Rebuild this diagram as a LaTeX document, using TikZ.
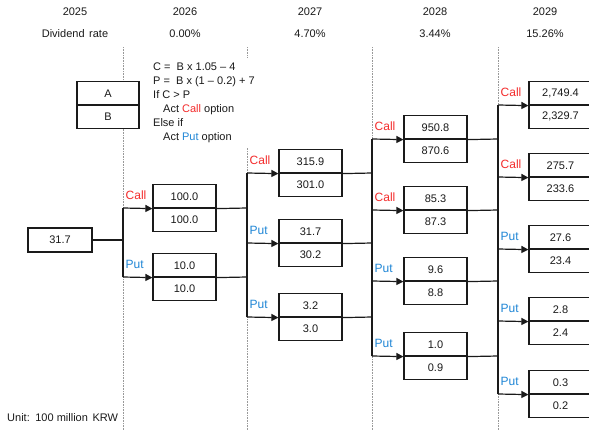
\documentclass[tikz,border=0pt]{standalone}
\usepackage{fontspec}
\setmainfont{Liberation Sans}
\usetikzlibrary{arrows.meta}
\definecolor{callred}{HTML}{F42C2C}
\definecolor{putblue}{HTML}{1F86D6}
\definecolor{ink}{HTML}{1A1A1A}
\tikzset{
  every node/.style={font=\fontsize{11}{13}\selectfont, text=ink},
  cell/.style={draw=ink, line width=1.2pt, fill=white, minimum width=63pt, minimum height=23.5pt, inner sep=0pt, anchor=center},
  guide/.style={gray!80, densely dotted, line width=0.6pt},
  wire/.style={draw=ink, line width=1.2pt},
  arr/.style={wire, -{Triangle[length=7pt,width=7pt]}},
  calllbl/.style={text=callred, font=\fontsize{12}{14}\selectfont, anchor=base west, inner sep=0pt, xshift=2.5pt, yshift=8.5pt},
  putlbl/.style={text=putblue, font=\fontsize{12}{14}\selectfont, anchor=base west, inner sep=0pt, xshift=2.5pt, yshift=8.5pt},
}
\newcommand\vpair[5]{%
  \node[cell] (#1t) at ({#2+31.5},{#3-11.75}) {#4};
  \node[cell] (#1b) at ({#2+31.5},{#3+11.75}) {#5};}
\begin{document}
\begin{tikzpicture}[x=1pt,y=-1pt]
\useasboundingbox (0,0) rectangle (589,431);
\clip (0,0) rectangle (589,431);
\fill[white] (0,0) rectangle (589,431);
% guides
\draw[guide] (123,47) -- (123,431);
\draw[guide] (247,47) -- (247,431);
\draw[guide] (372,47) -- (372,431);
\draw[guide] (498,47) -- (498,431);
% header
\node (y25) at (75,12) {2025};
\node (y26) at (185,12) {2026};
\node (y27) at (310,12) {2027};
\node (y28) at (435,12) {2028};
\node (y29) at (545,12) {2029};
\node (d25) at (75,34) {Dividend\hspace{1.5pt} rate};
\node (d26) at (185,34) {0.00\%};
\node (d27) at (310,34) {4.70\%};
\node (d28) at (435,34) {3.44\%};
\node (d29) at (545,34) {15.26\%};
% legend
\node[cell, minimum width=62pt] (A) at (108,93.25) {A};
\node[cell, minimum width=62pt] (B) at (108,116.75) {B};
\node[fill=white, align=left, anchor=north west, inner xsep=2pt, inner ysep=5pt, font=\fontsize{11}{14}\selectfont] (formula) at (151,58)
 {C =\ \ B x 1.05 – 4\\
  P =\ \ B x (1 – 0.2) + 7\\
  If C {>} P\\
  \hspace*{10pt}Act \textcolor{callred}{Call} option\\
  Else if\\
  \hspace*{10pt}Act \textcolor{putblue}{Put} option};
\node[anchor=west, inner sep=0pt] (unit) at (7,418) {Unit:\hspace{1.5pt} 100 million\hspace{1.5pt} KRW};
% boxes
\node[cell, minimum width=64pt, minimum height=24pt] (root) at (60,240) {31.7};
\vpair{La}{153}{208}{100.0}{100.0}
\vpair{Lb}{153}{277}{10.0}{10.0}
\vpair{Ma}{279}{173}{315.9}{301.0}
\vpair{Mb}{279}{243}{31.7}{30.2}
\vpair{Mc}{279}{317}{3.2}{3.0}
\vpair{Na}{404}{139}{950.8}{870.6}
\vpair{Nb}{404}{210}{85.3}{87.3}
\vpair{Nc}{404}{281}{9.6}{8.8}
\vpair{Nd}{404}{356}{1.0}{0.9}
\vpair{Pa}{529}{105}{2,749.4}{2,329.7}
\vpair{Pb}{529}{177}{275.7}{233.6}
\vpair{Pc}{529}{249}{27.6}{23.4}
\vpair{Pd}{529}{321}{2.8}{2.4}
\vpair{Pe}{529}{394}{0.3}{0.2}
% junctions
\coordinate (s0) at (123,240);
\coordinate (j1a) at (123,208); \coordinate (j1b) at (123,277);
\coordinate (k1a) at (247,208); \coordinate (k1b) at (247,277);
\coordinate (j2a) at (247,173); \coordinate (j2b) at (247,243); \coordinate (j2c) at (247,317);
\coordinate (k2a) at (372,173); \coordinate (k2b) at (372,243); \coordinate (k2c) at (372,317);
\coordinate (j3a) at (372,139); \coordinate (j3b) at (372,210); \coordinate (j3c) at (372,281); \coordinate (j3d) at (372,356);
\coordinate (k3a) at (498,139); \coordinate (k3b) at (498,210); \coordinate (k3c) at (498,281); \coordinate (k3d) at (498,356);
\coordinate (j4a) at (498,105); \coordinate (j4b) at (498,177); \coordinate (j4c) at (498,249); \coordinate (j4d) at (498,321); \coordinate (j4e) at (498,394);
% level 1
\draw[wire] (root.east) -- (s0);
\draw[wire] (j1a) -- (j1b);
\draw[arr] (j1a) -- (Lat.south west);
\draw[arr] (j1b) -- (Lbt.south west);
% level 2
\draw[wire] (Lat.south east) -- (k1a);
\draw[wire] (Lbt.south east) -- (k1b);
\draw[wire] (j2a) -- (j2c);
\draw[arr] (j2a) -- (Mat.south west);
\draw[arr] (j2b) -- (Mbt.south west);
\draw[arr] (j2c) -- (Mct.south west);
% level 3
\draw[wire] (Mat.south east) -- (k2a);
\draw[wire] (Mbt.south east) -- (k2b);
\draw[wire] (Mct.south east) -- (k2c);
\draw[wire] (j3a) -- (j3d);
\draw[arr] (j3a) -- (Nat.south west);
\draw[arr] (j3b) -- (Nbt.south west);
\draw[arr] (j3c) -- (Nct.south west);
\draw[arr] (j3d) -- (Ndt.south west);
% level 4
\draw[wire] (Nat.south east) -- (k3a);
\draw[wire] (Nbt.south east) -- (k3b);
\draw[wire] (Nct.south east) -- (k3c);
\draw[wire] (Ndt.south east) -- (k3d);
\draw[wire] (j4a) -- (j4e);
\draw[arr] (j4a) -- (Pat.south west);
\draw[arr] (j4b) -- (Pbt.south west);
\draw[arr] (j4c) -- (Pct.south west);
\draw[arr] (j4d) -- (Pdt.south west);
\draw[arr] (j4e) -- (Pet.south west);
% labels
\node[calllbl] (l1a) at (j1a) {Call};
\node[putlbl] (l1b) at (j1b) {Put};
\node[calllbl] (l2a) at (j2a) {Call};
\node[putlbl] (l2b) at (j2b) {Put};
\node[putlbl] (l2c) at (j2c) {Put};
\node[calllbl] (l3a) at (j3a) {Call};
\node[calllbl] (l3b) at (j3b) {Call};
\node[putlbl] (l3c) at (j3c) {Put};
\node[putlbl] (l3d) at (j3d) {Put};
\node[calllbl] (l4a) at (j4a) {Call};
\node[calllbl] (l4b) at (j4b) {Call};
\node[putlbl] (l4c) at (j4c) {Put};
\node[putlbl] (l4d) at (j4d) {Put};
\node[putlbl] (l4e) at (j4e) {Put};
\end{tikzpicture}
\end{document}
